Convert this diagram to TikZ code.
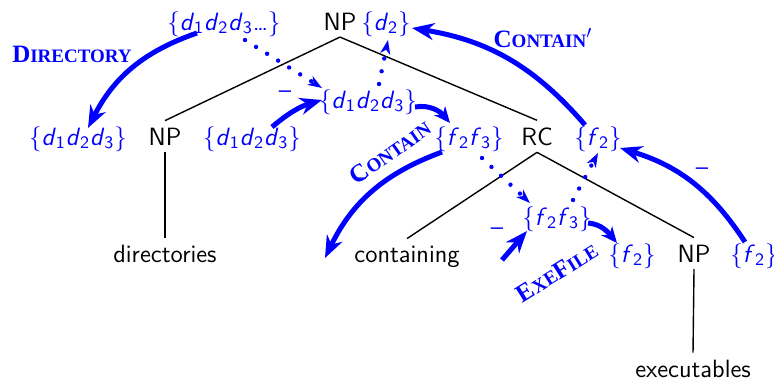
\documentclass[tikz,border=0pt]{standalone}
\usepackage{fontspec}
\usetikzlibrary{calc,positioning,arrows.meta}
\newfontfamily\scfont{Liberation Serif}
\definecolor{semblue}{RGB}{0,0,255}
\newcommand{\dd}[1]{\textit{d}\textsubscript{#1}}
\newcommand{\ff}[1]{\textit{f}\textsubscript{#1}}
\newcommand{\bigc}[1]{{\fontsize{12.5}{14}\selectfont #1}}
\newcommand{\oplbl}[1]{{\scfont\bfseries\fontsize{9.5}{11}\selectfont #1}}

\begin{document}
\begin{tikzpicture}[x=0.5pt,y=0.5pt,font=\fontsize{12.5}{15}\selectfont\sffamily,
    syn/.style={anchor=base},
    sem/.style={anchor=base,text=semblue},
    tr/.style={black,line width=0.7pt},
    lf/.style={semblue,line width=2.5pt,-{Stealth[length=11pt,width=8.5pt,inset=3.5pt]}},
    lfs/.style={lf,-{Stealth[length=8pt,width=7pt,inset=2.5pt]}},
    pass/.style={semblue,line width=2.2pt,line cap=round,dash pattern=on 0pt off 6.5pt,
      -{Stealth[length=7pt,width=5pt,inset=2pt]}},
    neg/.style={text=semblue}]
  \useasboundingbox (0,0) rectangle (774,-380);
  % tree
  \node[syn] (np0) at (340,-30)  {NP};
  \node[syn] (np1) at (165,-145) {NP};
  \node[syn] (rc)  at (537,-145) {RC};
  \node[syn] (np2) at (694,-262) {NP};
  \node[syn] (w1)  at (165,-262) {directories};
  \node[syn] (w2)  at (407,-262) {containing};
  \node[syn] (w3)  at (693,-377) {executables};
  \draw[tr] (np0.south) -- (np1.north);
  \draw[tr] (np0.south) -- (rc.north);
  \draw[tr] (np1.south) -- (w1.north);
  \draw[tr] (rc.south) -- (w2.north);
  \draw[tr] (rc.south) -- (np2.north);
  \draw[tr] (np2.south) -- (w3.north);
  % denotations
  \node[sem] (s0) at (224,-30)  {\{\dd{1}\dd{2}\dd{3}\ldots\}};
  \node[sem] (s1) at (386,-30)  {\{\dd{2}\}};
  \node[sem] (s2) at (78,-145)  {\{\dd{1}\dd{2}\dd{3}\}};
  \node[sem] (s3) at (252,-145) {\{\dd{1}\dd{2}\dd{3}\}};
  \node[sem] (s4) at (368,-108) {\{\dd{1}\dd{2}\dd{3}\}};
  \node[sem] (s5) at (469,-145) {\{\ff{2}\ff{3}\}};
  \node[sem] (s6) at (598,-145) {\{\ff{2}\}};
  \node[sem] (s7) at (557,-225) {\{\ff{2}\ff{3}\}};
  \node[sem] (s8) at (632,-262) {\{\ff{2}\}};
  \node[sem] (s9) at (754,-262) {\{\ff{2}\}};
  \coordinate (cEnd) at (325,-258);
  \coordinate (mStart) at (502,-260);
  % operations
  \draw[lf] ($(s0.base)+(-27,-3)$) to[bend right=22] ($(s2.base)+(10,17)$);
  \draw[pass] ($(s0.base)+(21,-10)$) -- ($(s4.base)+(-46,20)$);
  \draw[lf] ($(s3.base)+(20,18)$) to[bend left=12] ($(s4.base)+(-46,8)$);
  \draw[pass] ($(s4.base)+(11,24)$) -- ($(s1.base)+(2,-10)$);
  \draw[lfs] ($(s4.base)+(47,1)$) to[out=10,in=130] ($(s5.base)+(-19,22)$);
  \draw[lf] ($(s5.base)+(-27,-7)$) to[bend right=22] (cEnd);
  \draw[pass] ($(s5.base)+(13,-13)$) -- ($(s7.base)+(-27,22)$);
  \draw[lf] (mStart) -- ($(s7.base)+(-30,-6)$);
  \draw[lfs] ($(s7.base)+(31,2)$) to[out=-5,in=130] ($(s8.base)+(-15,19)$);
  \draw[pass] ($(s7.base)+(16,25)$) -- ($(s6.base)+(0,-8)$);
  \draw[lf] ($(s6.base)+(-13,20)$) to[bend right=20] ($(s1.base)+(26,2)$);
  \draw[lf] ($(s9.base)+(-9,20)$) to[bend right=20] ($(s6.base)+(22,-3)$);
  % labels
  \node[sem] (lDir) at (72,-62) {\oplbl{\bigc{D}IRECTORY}};
  \node[sem] (lCp)  at (543,-47) {\oplbl{\bigc{C}ONTAIN}$'$};
  \node[text=semblue,rotate=35] (lCon) at (390,-152) {\oplbl{\bigc{C}ONTAIN}};
  \node[text=semblue,rotate=32] (lExe) at (557,-272) {\oplbl{\bigc{E}XE\bigc{F}ILE}};
  \node[neg] (m1) at (285,-95)  {--};
  \node[neg] (m2) at (360,-182) {--};
  \node[neg] (m3) at (497,-232) {--};
  \node[neg] (m4) at (702,-172) {--};
\end{tikzpicture}
\end{document}
